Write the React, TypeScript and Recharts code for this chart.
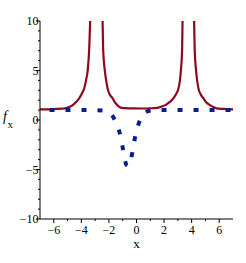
import React from 'react';
import { LineChart, Line, XAxis, YAxis } from 'recharts';

const xTicks = [-6, -5, -4, -3, -2, -1, 0, 1, 2, 3, 4, 5, 6];
const yTicks = [-10, -9, -8, -7, -6, -5, -4, -3, -2, -1, 0, 1, 2, 3, 4, 5, 6, 7, 8, 9, 10];

const redX = [-7, -6.5, -6, -5.5, -5.2, -4.9, -4.62, -4.4, -4.15, -3.95, -3.79, -3.65, -3.54, -3.43, -3.36, -3.28, -3.15, -2.91, -2.67, -2.55, -2.46, -2.42, -2.3, -2.2, -2.1, -1.95, -1.74, -1.55, -1.39, -1.15, -0.8, -0.3, 0.4, 1.0, 1.49, 1.8, 2.09, 2.4, 2.69, 2.9, 3.05, 3.15, 3.22, 3.31, 3.34, 3.42, 3.55, 3.76, 3.97, 4.1, 4.18, 4.22, 4.32, 4.49, 4.65, 4.85, 5.05, 5.33, 5.81, 6.3, 7];
const redY: (number | null)[] = [1.08, 1.08, 1.1, 1.14, 1.18, 1.3, 1.5, 1.8, 2.2, 2.7, 3.2, 4.1, 5.0, 7.2, 10, 14, 30, null, 30, 14, 10, 7.2, 5.0, 4.0, 3.2, 2.6, 2.2, 1.75, 1.5, 1.25, 1.2, 1.17, 1.16, 1.18, 1.22, 1.35, 1.5, 1.8, 2.2, 2.7, 3.2, 4.0, 5.0, 7.2, 10, 14, 30, null, 30, 14, 10, 7.2, 5.0, 3.2, 2.6, 2.2, 1.8, 1.5, 1.18, 1.12, 1.08];

const blueX = [-7, -3, -2.5, -2.2, -2, -1.75, -1.5, -1.25, -1.0, -0.85, -0.72, -0.6, -0.48, -0.39, -0.25, -0.1, 0, 0.15, 0.3, 0.5, 0.75, 1, 1.3, 7];
const blueY = [1, 1, 0.97, 0.88, 0.75, 0.45, -0.25, -1.15, -2.8, -4.0, -4.55, -4.65, -4.4, -3.9, -2.9, -1.7, -1.1, -0.4, 0.15, 0.6, 0.85, 0.95, 1, 1];

const redData = redX.map((x, i) => ({ x, y: redY[i] }));
const blueData = blueX.map((x, i) => ({ x, y: blueY[i] }));

const FONT = '"Liberation Serif", "Times New Roman", serif';
const fmt = (v: number) => (v < 0 ? '\u2212' + Math.abs(v) : String(v));

const XTick = (props: any) => {
  const { x, y, payload } = props;
  const v = payload.value;
  const major = v % 2 === 0;
  return (
    <g>
      <line x1={x} x2={x} y1={y} y2={y + (major ? 4 : 2)} stroke="#000" strokeWidth={1} />
      {major && (
        <text x={x} y={y + 15} textAnchor="middle" fontFamily={FONT} fontSize={12} fill="#000">
          {fmt(v)}
        </text>
      )}
    </g>
  );
};

const YTick = (props: any) => {
  const { x, y, payload } = props;
  const v = payload.value;
  const major = v % 5 === 0;
  return (
    <g>
      <line x1={x} x2={x - (major ? 4 : 2)} y1={y} y2={y} stroke="#000" strokeWidth={1} />
      {major && (
        <text x={x - 1.5} y={y + 4} textAnchor="end" fontFamily={FONT} fontSize={12} fill="#000">
          {fmt(v)}
        </text>
      )}
    </g>
  );
};

const YLabel = () => (
  <g>
    <text x={3} y={121} fontFamily={FONT} fontStyle="italic" fontSize={14} fill="#000">f</text>
    <text x={7.5} y={128} fontFamily={FONT} fontSize={11} fill="#000">x</text>
  </g>
);

const XLabel = () => (
  <text x={136.5} y={248} textAnchor="middle" fontFamily={FONT} fontSize={13} fill="#000">x</text>
);

export default function App() {
  return (
    <div style={{ position: 'absolute', left: 0, top: 0 }}>
      <LineChart width={246} height={263} margin={{ top: 21, right: 13, left: 0, bottom: 0 }}>
        <XAxis
          type="number"
          dataKey="x"
          domain={[-7, 7]}
          ticks={xTicks}
          interval={0}
          allowDataOverflow
          height={44}
          tickSize={0}
          tickMargin={0}
          tickLine={false}
          axisLine={{ stroke: '#000', strokeWidth: 1 }}
          tick={<XTick />}
          label={<XLabel />}
        />
        <YAxis
          type="number"
          dataKey="y"
          domain={[-10, 10]}
          ticks={yTicks}
          interval={0}
          allowDataOverflow
          width={40}
          tickSize={0}
          tickMargin={0}
          tickLine={false}
          axisLine={{ stroke: '#000', strokeWidth: 1 }}
          tick={<YTick />}
          label={<YLabel />}
        />
        <Line
          data={redData}
          dataKey="y"
          type="monotone"
          stroke="#8c0a1c"
          strokeWidth={2.2}
          dot={false}
          activeDot={false}
          connectNulls={false}
          isAnimationActive={false}
        />
        <Line
          data={blueData}
          dataKey="y"
          type="monotone"
          stroke="#0a1e88"
          strokeWidth={4}
          strokeDasharray="5 11"
          strokeDashoffset={6.5}
          dot={false}
          activeDot={false}
          isAnimationActive={false}
        />
      </LineChart>
    </div>
  );
}
